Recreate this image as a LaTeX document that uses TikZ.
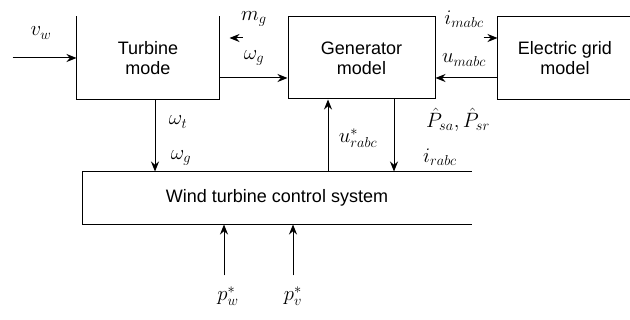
\documentclass[tikz,border=0pt]{standalone}
\usepackage{fontspec}
\setmainfont{Liberation Sans}
\usetikzlibrary{arrows.meta,positioning}
\tikzset{
  blockbox/.style={rectangle, minimum height=82pt, align=center, inner sep=0pt,
                   line width=1pt, font=\fontsize{18}{20}\selectfont},
  wire/.style={line width=1pt},
  arr/.style={-{Stealth[length=10pt,width=8pt]}, line width=1pt},
  sig/.style={inner sep=0pt, font=\fontsize{22}{24}\selectfont}}

\begin{document}
\begin{tikzpicture}[x=1pt, y=-1pt]
  \useasboundingbox (0,0) rectangle (630,320);
  \node[blockbox, minimum width=142pt] (turbine) at (148,58) {Turbine\\mode};
  \node[blockbox, draw, minimum width=147pt, right=68pt of turbine] (generator) {Generator\\model};
  \node[blockbox, minimum width=134pt, right=62pt of generator] (grid) {Electric grid\\model};
  \node[blockbox, minimum width=388pt, minimum height=52pt] (ctrl) at (277,198) {Wind turbine control system};
  \draw[wire] (turbine.north west) -- (turbine.south west) -- (turbine.south east) -- (turbine.north east);
  \draw[wire] (grid.north east) -- (grid.north west) -- (grid.south west) -- (grid.south east);
  \draw[wire] (ctrl.north east) -- (ctrl.north west) -- (ctrl.south west) -- (ctrl.south east);

  \coordinate[left=64pt of turbine.west] (vin);
  \draw[arr] (vin) -- (turbine.west);
  \coordinate (mtip) at ([xshift=10pt,yshift=20pt]turbine.east);
  \draw[arr] ([xshift=13pt]mtip) -- (mtip);
  \coordinate (wout) at ([yshift=-20pt]turbine.east);
  \draw[arr] (wout) -- (wout -| generator.west);
  \coordinate (iend) at ([yshift=20pt]grid.west);
  \draw[arr] ([xshift=-14pt]iend) -- (iend);
  \coordinate (uin) at ([yshift=-20pt]grid.west);
  \draw[arr] (uin) -- (uin -| generator.east);

  \coordinate (tdown) at ([xshift=7pt]turbine.south);
  \draw[arr] (tdown) -- (tdown |- ctrl.north);
  \coordinate (gup) at ([xshift=-33.5pt]generator.south);
  \draw[arr] (gup |- ctrl.north) -- (gup);
  \coordinate (gdown) at ([xshift=32.5pt]generator.south);
  \draw[arr] (gdown) -- (gdown |- ctrl.north);
  \coordinate (pw) at ([xshift=-53pt,yshift=-51pt]ctrl.south);
  \draw[arr] (pw) -- (pw |- ctrl.south);
  \coordinate (pv) at ([xshift=16pt,yshift=-51pt]ctrl.south);
  \draw[arr] (pv) -- (pv |- ctrl.south);

  \node[sig] (vwlbl) at (41,33) {$v_w$};
  \node[sig] (mglbl) at (254,19) {$m_g$};
  \node[sig] (wglbl) at (254,58) {$\omega_g$};
  \node[sig] (wtlbl) at (178,122) {$\omega_t$};
  \node[sig] (wg2lbl) at (181,158) {$\omega_g$};
  \node[sig] (imlbl) at (464,19) {$i_{mabc}$};
  \node[sig] (umlbl) at (464,60) {$u_{mabc}$};
  \node[sig] (urlbl) at (358,138) {$u^{*}_{rabc}$};
  \node[sig] (pslbl) at (458,120) {$\hat{P}_{sa},\hat{P}_{sr}$};
  \node[sig] (irlbl) at (440,157) {$i_{rabc}$};
  \node[sig] (pwlbl) at (228,296) {$p^{*}_{w}$};
  \node[sig] (pvlbl) at (293,296) {$p^{*}_{v}$};
\end{tikzpicture}
\end{document}
